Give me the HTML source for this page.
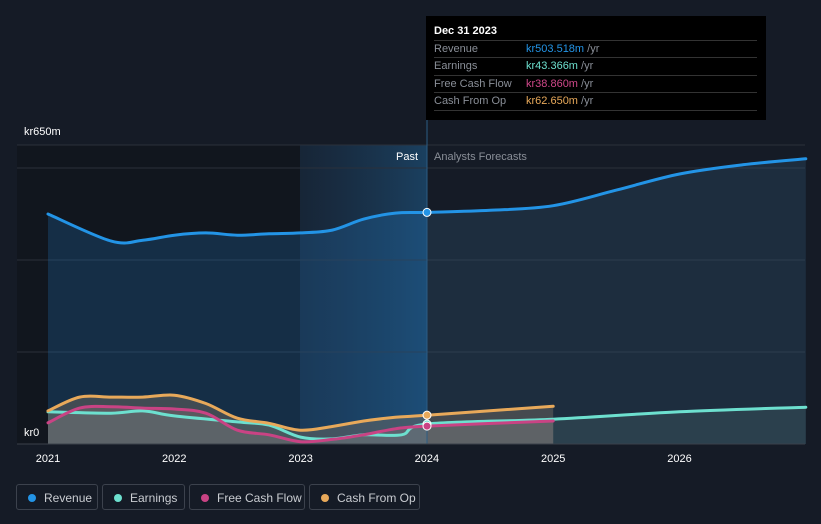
<!DOCTYPE html>
<html><head><meta charset="utf-8"><style>
body{margin:0;background:#151b26;width:821px;height:524px;overflow:hidden;font-family:"Liberation Sans",sans-serif}
svg{position:absolute;left:0;top:0}
.tt{position:absolute;left:426px;top:16px;width:340px;height:104px;background:#000;font-size:11px;color:#8a8f98}
.tt .h{position:absolute;left:8px;top:9px;color:#fff;font-weight:bold;font-size:11px}
.row{position:absolute;left:8px;width:323px;height:17px;border-top:1px solid #333;line-height:17px}
.row span{position:absolute;left:92px}
.leg{position:absolute;top:484px;height:26px;border:1px solid #3c424d;border-radius:3px;color:#c9ccd1;font-size:12px;line-height:26px;box-sizing:border-box}
.leg i{position:absolute;left:11px;top:9px;width:8px;height:8px;border-radius:50%}
.leg b{font-weight:normal;position:absolute;left:27px}
</style></head><body>
<svg id="c" width="821" height="524"></svg>
<div class="tt">
<div class="h">Dec 31 2023</div>
<div class="row" style="top:24px">Revenue<span style="color:#2394e6">kr503.518m <em style="font-style:normal;color:#8a8f98">/yr</em></span></div>
<div class="row" style="top:41px">Earnings<span style="color:#6de0cf">kr43.366m <em style="font-style:normal;color:#8a8f98">/yr</em></span></div>
<div class="row" style="top:59px">Free Cash Flow<span style="color:#d0488a">kr38.860m <em style="font-style:normal;color:#8a8f98">/yr</em></span></div>
<div class="row" style="top:76px;border-bottom:1px solid #333">Cash From Op<span style="color:#e8a95a">kr62.650m <em style="font-style:normal;color:#8a8f98">/yr</em></span></div>
</div>
<div class="leg" style="left:16px;width:82px"><i style="background:#2394e6"></i><b>Revenue</b></div>
<div class="leg" style="left:102px;width:83px"><i style="background:#6de0cf"></i><b>Earnings</b></div>
<div class="leg" style="left:189px;width:116px"><i style="background:#c94384"></i><b>Free Cash Flow</b></div>
<div class="leg" style="left:309px;width:111px"><i style="background:#e8a95a"></i><b>Cash From Op</b></div>
<script>
const revX=[2021,2021.5,2021.75,2022,2022.25,2022.5,2022.75,2023,2023.25,2023.5,2023.75,2024,2024.5,2025,2025.5,2026,2026.5,2027];
const revV=[500,441,443,454,459,454,457,459,465,489,502,503.5,508,518,552,587,607,620];
const earnX=[2021,2021.5,2021.75,2022,2022.5,2022.75,2023,2023.25,2023.5,2023.8,2024,2025,2026,2027];
const earnV=[70,67,72,61,48,41,15,11,20,20,43.4,54,70,80];
const fcfX=[2021,2021.25,2021.5,2021.75,2022,2022.25,2022.5,2022.75,2023,2023.25,2023.5,2023.75,2024,2025];
const fcfV=[46,78,81,78,76,67,30,20,5,10,20,33,38.9,50];
const cfoX=[2021,2021.25,2021.5,2021.75,2022,2022.25,2022.5,2022.75,2023,2023.25,2023.5,2023.75,2024,2025];
const cfoV=[72,102,102,102,106,88,56,45,30,38,50,58,62.65,82];
const xTicks=[2021,2022,2023,2024,2025,2026];
const grid=[200,400,600,650];
const sx=t=>48+(t-2021)*126.3, sy=v=>444-v*0.46;
const svg=document.getElementById('c'),NS='http://www.w3.org/2000/svg';
function el(tag,a,p){const e=document.createElementNS(NS,tag);for(const k in a)e.setAttribute(k,a[k]);(p||svg).appendChild(e);return e;}
svg.innerHTML='<defs><linearGradient id="pg" x1="0" x2="1"><stop offset="0" stop-color="#1a3550" stop-opacity="0.4"/><stop offset="1" stop-color="#1b4466" stop-opacity="0.9"/></linearGradient></defs>';
let r=el('rect',{x:17,y:145,width:283,height:299,fill:'#11161e'});
r=el('rect',{x:300,y:145,width:127,height:299,fill:'url(#pg)'});
grid.forEach(g=>{const l=el('line',{x1:17,x2:805,y1:sy(g),y2:sy(g),stroke:'#2a303b','stroke-width':1});});
function path(X,V){const p=X.map((x,i)=>[sx(x),sy(V[i])]);let d='M'+p[0][0].toFixed(1)+','+p[0][1].toFixed(1);
for(let i=0;i<p.length-1;i++){const a=p[i-1]||p[i],b=p[i],c=p[i+1],e=p[i+2]||c;
const c1=[b[0]+(c[0]-a[0])/6,b[1]+(c[1]-a[1])/6],c2=[c[0]-(e[0]-b[0])/6,c[1]-(e[1]-b[1])/6];
d+=' C'+c1[0].toFixed(1)+','+c1[1].toFixed(1)+' '+c2[0].toFixed(1)+','+c2[1].toFixed(1)+' '+c[0].toFixed(1)+','+c[1].toFixed(1);}return d;}
function area(X,V,fill,name){const d=path(X,V)+' L'+sx(X[X.length-1])+',444 L'+sx(X[0])+',444Z';const a=el('path',{d:d,fill:fill});}
const rp=revX.filter(x=>x<=2024).length;
area(revX.slice(0,rp),revV.slice(0,rp),'rgba(35,120,190,0.25)','revenue-area-past');
area(revX.slice(rp-1),revV.slice(rp-1),'rgba(60,110,150,0.22)','revenue-area-forecast');
area(cfoX,cfoV,'rgba(120,110,100,0.45)','cfo-area');
area(fcfX,fcfV,'rgba(130,110,115,0.4)','fcf-area');
area(earnX,earnV,'rgba(100,140,140,0.2)','earnings-area');
let vl=el('line',{x1:427,x2:427,y1:16,y2:444,stroke:'#2c5c84','stroke-width':1});
function line(X,V,c,name){const l=el('path',{d:path(X,V),fill:'none',stroke:c,'stroke-width':3,'stroke-linecap':'round'});}
line(earnX,earnV,'#6de0cf','earnings-line');
line(fcfX,fcfV,'#c94384','fcf-line');
line(cfoX,cfoV,'#e8a95a','cfo-line');
line(revX,revV,'#2394e6','revenue-line');
[[revV[rp-1],'#2394e6'],[62.65,'#e8a95a'],[43.4,'#6de0cf'],[38.9,'#c94384']].forEach(d=>{const c=el('circle',{cx:427,cy:sy(d[0]),r:4,fill:d[1],stroke:'#fff','stroke-width':1});});
let ax=el('line',{x1:17,x2:805,y1:444,y2:444,stroke:'#3a404a'});
xTicks.forEach(t=>{const e=el('text',{x:sx(t),y:462,fill:'#fff','font-size':11,'text-anchor':'middle'});e.textContent=t;});
let t=el('text',{x:24,y:135,fill:'#fff','font-size':11});t.textContent='kr650m';
t=el('text',{x:24,y:436,fill:'#fff','font-size':11});t.textContent='kr0';
t=el('text',{x:418,y:160,fill:'#fff','font-size':11,'text-anchor':'end'});t.textContent='Past';
t=el('text',{x:434,y:160,fill:'#8a8f98','font-size':11});t.textContent='Analysts Forecasts';
</script>
</body></html>
